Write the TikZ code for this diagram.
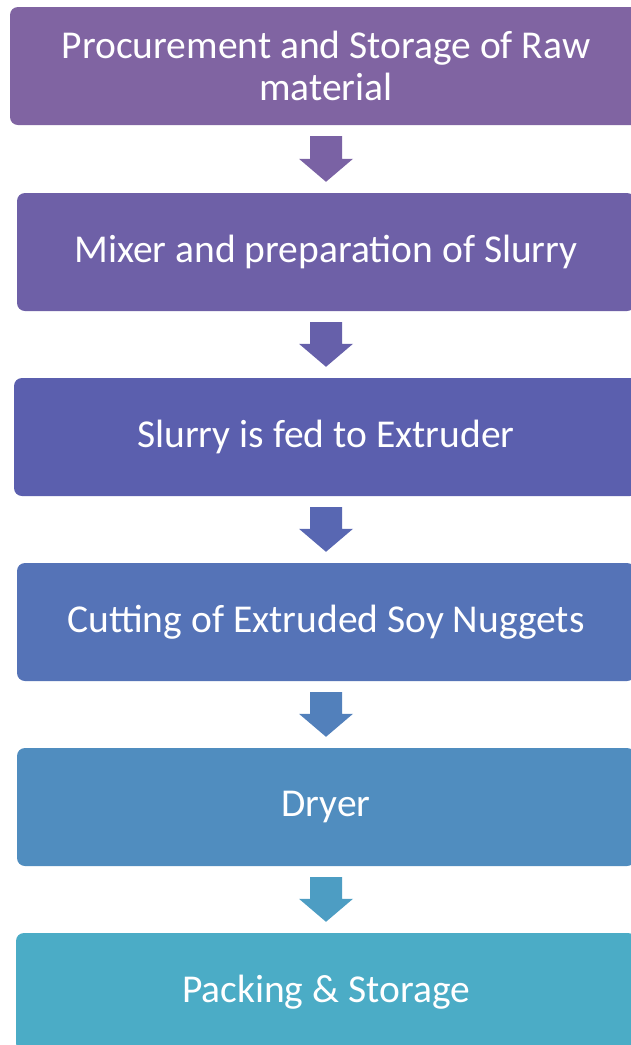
\documentclass[tikz,border=0pt]{standalone}
\usepackage{fontspec}
\setmainfont{Carlito}
\usetikzlibrary{calc}
\definecolor{cA}{HTML}{8064A2}
\definecolor{cB}{HTML}{6E60A7}
\definecolor{cC}{HTML}{5B5FAE}
\definecolor{cD}{HTML}{5573B7}
\definecolor{cE}{HTML}{508DBF}
\definecolor{cF}{HTML}{4BACC6}
\definecolor{aA}{HTML}{7A62A4}
\definecolor{aB}{HTML}{6660AA}
\definecolor{aC}{HTML}{5867B2}
\definecolor{aD}{HTML}{5280BB}
\definecolor{aE}{HTML}{4D9DC3}
\tikzset{
  stepbox/.style={rectangle, rounded corners=8pt, minimum height=118pt, inner sep=0pt,
    text=white, align=center, font=\fontsize{39.5}{42}\selectfont},
}
\newcommand\flowarrow[3]{%
  \fill[#3] ($(#1.south)+(-16,11)$) -- ($(#1.south)+(16,11)$) -- ($(#2.north)+(16,-34)$)
    -- ($(#2.north)+(27,-34)$) -- ($(#2.north)+(0,-11)$) -- ($(#2.north)+(-27,-34)$)
    -- ($(#2.north)+(-16,-34)$) -- cycle;}
\begin{document}
\begin{tikzpicture}[x=1pt,y=-1pt]
\useasboundingbox (0,0) rectangle (631,1045);
\clip (0,0) rectangle (631,1045);
\fill[white] (0,0) rectangle (631,1045);
\node[stepbox, fill=cA, minimum width=632pt] (n1) at (326,66) {Procurement and Storage of Raw\\material};
\node[stepbox, fill=cB, minimum width=618pt] (n2) at (326,252) {Mixer and preparation of Slurry};
\node[stepbox, fill=cC, minimum width=624pt] (n3) at (326,437) {Slurry is fed to Extruder};
\node[stepbox, fill=cD, minimum width=618pt] (n4) at (326,622) {Cutting of Extruded Soy Nuggets};
\node[stepbox, fill=cE, minimum width=618pt] (n5) at (326,807) {Dryer};
\node[stepbox, fill=cF, minimum width=620pt] (n6) at (326,992) {Packing \& Storage};
\flowarrow{n1}{n2}{aA}
\flowarrow{n2}{n3}{aB}
\flowarrow{n3}{n4}{aC}
\flowarrow{n4}{n5}{aD}
\flowarrow{n5}{n6}{aE}
\end{tikzpicture}
\end{document}
